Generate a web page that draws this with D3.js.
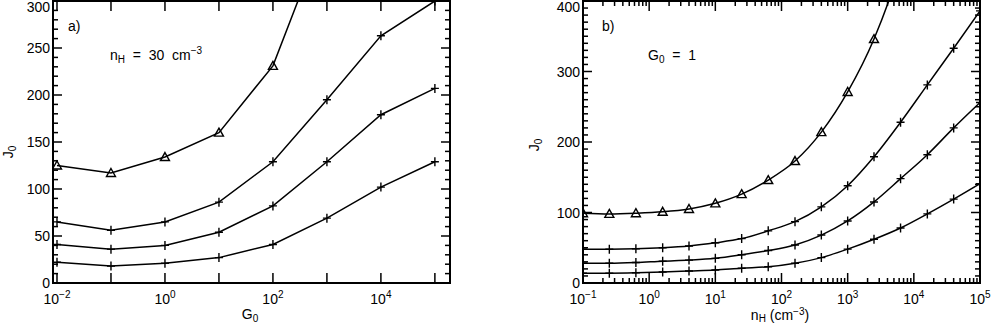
<!DOCTYPE html>
<html>
<head>
<meta charset="utf-8">
<script src="https://cdn.jsdelivr.net/npm/d3@7"></script>
<style>
  body { margin: 0; background: #fff; }
  text { font-family: "Liberation Sans", Arial, sans-serif; fill: #000; }
</style>
</head>
<body>
<script>
// panel a) : J0 vs G0 at nH = 30
const g0 = [0.01, 0.1, 1, 10, 100, 1000, 10000, 100000];
const aTri = [125, 117, 134, 160, 231, 380, 560, 760];
const aS1 = [65, 56, 65, 86, 129, 195, 263, 300];
const aS2 = [41, 36, 40, 54, 82, 129, 179, 207];
const aS3 = [22, 18, 21, 27, 41, 69, 102, 129];
const aXticks = [0.01, 0.1, 1, 10, 100, 1000, 10000, 100000];
const aXlabels = [-2, 0, 2, 4];

// panel b) : J0 vs nH at G0 = 1
const nh = [0.1, 0.25, 0.63, 1.6, 4, 10, 25, 63, 160, 400, 1000, 2500, 6300, 16000, 40000, 100000];
const bTri = [99, 98, 99, 101, 105, 113, 126, 146, 173, 214, 271, 346, 450, 590, 770, 1000];
const bS1 = [48, 48, 48.5, 50, 52.5, 57, 63, 74, 87, 108, 138, 179, 228, 281, 333, 386];
const bS2 = [28, 28, 29, 31, 32.5, 35, 40, 46, 54, 68, 88, 115, 148, 182, 220, 256];
const bS3 = [14, 14, 14.5, 15.5, 17, 18.5, 21, 23, 28, 36, 48, 62, 78, 98, 119, 141];
const bXlabels = [-1, 0, 1, 2, 3, 4, 5];

const W = 993, H = 325;
const FS = 14, SFS = 10;
const svg = d3.select("body").append("svg").attr("width", W).attr("height", H);

const plus = "M-4,0H4M0,-4.5V4.5";
const tri = "M0,-4.5L4.5,3.5L-4.5,3.5Z";
const sp = "\u00a0";

function supLabel(sel, exp) {
  sel.text(null);
  sel.append("tspan").text("10");
  sel.append("tspan").attr("dy", -6).attr("font-size", SFS).text(exp < 0 ? "\u2212" + (-exp) : exp);
}

function panel(opt) {
  const x = d3.scaleLog().domain(opt.xdom).range([opt.x0, opt.x1]);
  const y = d3.scaleLinear().domain([0, opt.ymax]).range([283, 1]);
  const g = svg.append("g");

  const id = "clip" + opt.name;
  svg.append("clipPath").attr("id", id).append("rect")
    .attr("x", opt.x0).attr("y", 1).attr("width", opt.x1 - opt.x0).attr("height", 282);

  // minor ticks
  const minorY = d3.range(0, opt.ymax + 1, 10).filter(v => v % opt.ymajor != 0);
  const minorX = opt.minorX;
  const minors = g.append("g").attr("stroke", "#000").attr("stroke-width", 1.5);
  minors.selectAll(".yl").data(minorY).join("line")
    .attr("x1", opt.x0).attr("x2", opt.x0 + 5).attr("y1", d => y(d)).attr("y2", d => y(d));
  minors.selectAll(".yr").data(minorY).join("line")
    .attr("x1", opt.x1).attr("x2", opt.x1 - 5).attr("y1", d => y(d)).attr("y2", d => y(d));
  minors.selectAll(".xb").data(minorX).join("line")
    .attr("x1", d => x(d)).attr("x2", d => x(d)).attr("y1", 283).attr("y2", 278);
  minors.selectAll(".xt").data(minorX).join("line")
    .attr("x1", d => x(d)).attr("x2", d => x(d)).attr("y1", 1).attr("y2", 6);

  // major ticks
  const majorY = d3.range(0, opt.ymax + 1, opt.ymajor);
  const majors = g.append("g").attr("stroke", "#000").attr("stroke-width", 1.5);
  majors.selectAll(".yl").data(majorY).join("line")
    .attr("x1", opt.x0).attr("x2", opt.x0 + 9).attr("y1", d => y(d)).attr("y2", d => y(d));
  majors.selectAll(".yr").data(majorY).join("line")
    .attr("x1", opt.x1).attr("x2", opt.x1 - 9).attr("y1", d => y(d)).attr("y2", d => y(d));
  majors.selectAll(".xb").data(opt.majorX).join("line")
    .attr("x1", d => x(d)).attr("x2", d => x(d)).attr("y1", 283).attr("y2", 273);
  majors.selectAll(".xt").data(opt.majorX).join("line")
    .attr("x1", d => x(d)).attr("x2", d => x(d)).attr("y1", 1).attr("y2", 11);

  // y labels
  g.append("g").selectAll("text").data(majorY).join("text")
    .attr("x", opt.x0 - 3).attr("y", d => Math.max(y(d) + 5, 12))
    .attr("text-anchor", "end").attr("font-size", FS)
    .text(d => d);

  // x labels
  g.append("g").selectAll("text").data(opt.xlabels).join("text")
    .attr("x", d => x(Math.pow(10, d))).attr("y", 304)
    .attr("text-anchor", "middle").attr("font-size", FS)
    .each(function(d) { supLabel(d3.select(this), d); });

  // box
  g.append("rect").attr("x", opt.x0).attr("y", 1)
    .attr("width", opt.x1 - opt.x0).attr("height", 282)
    .attr("fill", "none").attr("stroke", "#000").attr("stroke-width", 2);

  // series
  const line = d3.line().x(d => x(d[0])).y(d => y(d[1]));
  if (opt.curve) line.curve(d3.curveMonotoneX);
  const data = g.append("g").attr("clip-path", "url(#" + id + ")");
  opt.series.forEach((s, i) => {
    const pts = opt.xs.map((v, j) => [v, s[j]]);
    data.append("path").datum(pts).attr("d", line)
      .attr("fill", "none").attr("stroke", "#000").attr("stroke-width", 1.5);
    data.selectAll(null).data(pts).join("path")
      .attr("transform", d => `translate(${x(d[0])},${y(d[1])})`)
      .attr("d", i == 0 ? tri : plus)
      .attr("fill", "none").attr("stroke", "#000").attr("stroke-width", 1.4);
  });

  // y title
  const yt = g.append("text").attr("font-size", FS)
    .attr("transform", `translate(${opt.ytx},${opt.yty}) rotate(-90)`)
    .attr("text-anchor", "middle");
  yt.append("tspan").text("J");
  yt.append("tspan").attr("dy", 3).attr("font-size", SFS).text("0");

  return { x, y, g };
}

const pa = panel({
  name: "a", x0: 53, x1: 450, xdom: [Math.pow(10, -2.074), Math.pow(10, 5.28)],
  ymax: 300, ymajor: 50, majorX: aXticks, minorX: [], xlabels: aXlabels,
  xs: g0, series: [aTri, aS1, aS2, aS3], curve: false, ytx: 13, yty: 152
});

const minorB = [];
for (let e = -1; e < 5; e++) for (let k = 2; k < 10; k++) minorB.push(k * Math.pow(10, e));
const pb = panel({
  name: "b", x0: 583, x1: 980, xdom: [0.1, 100000],
  ymax: 400, ymajor: 100, majorX: bXlabels.map(e => Math.pow(10, e)), minorX: minorB, xlabels: bXlabels,
  xs: nh, series: [bTri, bS1, bS2, bS3], curve: true, ytx: 539, yty: 145
});

// x titles
const xa = svg.append("text").attr("x", 250).attr("y", 319).attr("text-anchor", "middle").attr("font-size", FS);
xa.append("tspan").text("G");
xa.append("tspan").attr("dy", 3).attr("font-size", SFS).text("0");

const xb = svg.append("text").attr("x", 780).attr("y", 320).attr("text-anchor", "middle").attr("font-size", FS);
xb.append("tspan").text("n");
xb.append("tspan").attr("dy", 2).attr("font-size", SFS).text("H");
xb.append("tspan").attr("dy", -2).text(" (cm");
xb.append("tspan").attr("dy", -5).attr("font-size", SFS).text("\u22123");
xb.append("tspan").attr("dy", 5).text(")");

// panel annotations
svg.append("text").attr("x", 68).attr("y", 31).attr("font-size", FS).text("a)");
const na = svg.append("text").attr("x", 110).attr("y", 60).attr("font-size", FS);
na.append("tspan").text("n");
na.append("tspan").attr("dy", 3).attr("font-size", SFS).text("H");
na.append("tspan").attr("dy", -3).text(sp + sp + "=" + sp + sp + "30" + sp + sp + "cm");
na.append("tspan").attr("dy", -6).attr("font-size", SFS).text("\u22123");

svg.append("text").attr("x", 602).attr("y", 31).attr("font-size", FS).text("b)");
const nb = svg.append("text").attr("x", 648).attr("y", 60).attr("font-size", FS);
nb.append("tspan").text("G");
nb.append("tspan").attr("dy", 3).attr("font-size", SFS).text("0");
nb.append("tspan").attr("dy", -3).text(sp + sp + "=" + sp + sp + "1");
</script>
</body>
</html>
